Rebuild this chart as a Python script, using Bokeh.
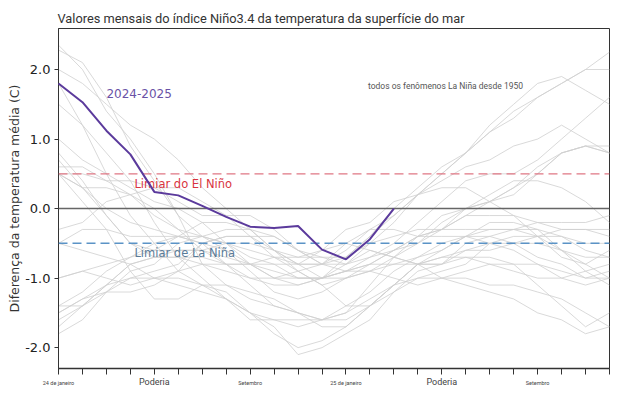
from bokeh.plotting import figure
from bokeh.models import Range1d, FixedTicker, Label, Span, LinearAxis
from bokeh.embed import file_html
from bokeh.resources import INLINE

# ---- data ----
months = list(range(24))
x_tick_labels = {0: "24 de janeiro", 8: "Setembro", 12: "25 de janeiro", 20: "Setembro"}
x_big_labels = {4: "Poderia", 16: "Poderia"}
y_ticks = [-2, -1, 0, 1, 2]
y_tick_labels = ["-2.0", "-1.0", "0.0", "1.0", "2.0"]

current_2024_2025 = [1.80, 1.53, 1.12, 0.78, 0.24, 0.19, 0.04, -0.12, -0.26, -0.28, -0.25, -0.59, -0.73, -0.44, 0.0]

ev_1950_51 = [-1.5, -1.3, -1.2, -1.2, -1.1, -0.9, -0.5, -0.4, -0.4, -0.4, -0.6, -0.8, -0.8, -0.5, -0.2, 0.2, 0.4, 0.6, 0.7, 0.9, 1.0, 1.2, 1.0, 0.8]
ev_1954_55 = [0.5, 0.3, -0.1, -0.5, -0.7, -0.7, -0.7, -0.8, -1.0, -1.1, -1.1, -1.0, -0.8, -0.6, -0.7, -0.8, -0.8, -0.7, -0.7, -0.8, -1.1, -1.4, -1.7, -1.5]
ev_1964_65 = [0.8, 0.4, -0.1, -0.5, -0.6, -0.6, -0.6, -0.7, -0.8, -0.8, -0.8, -0.8, -0.6, -0.3, -0.1, 0.2, 0.5, 0.8, 1.2, 1.5, 1.8, 1.9, 1.7, 1.5]
ev_1970_71 = [0.5, 0.3, 0.3, 0.2, 0.0, -0.3, -0.6, -0.8, -0.8, -0.7, -0.9, -1.1, -1.4, -1.4, -1.1, -0.8, -0.7, -0.7, -0.8, -0.8, -0.8, -0.9, -1.0, -0.9]
ev_1971_72 = [-1.4, -1.4, -1.1, -0.8, -0.7, -0.7, -0.8, -0.8, -0.8, -0.9, -1.0, -1.0, -0.7, -0.4, 0.0, 0.3, 0.6, 0.8, 1.1, 1.4, 1.6, 1.8, 2.0, 2.0]
ev_1973_74 = [1.8, 1.2, 0.5, -0.1, -0.5, -0.9, -1.1, -1.3, -1.5, -1.7, -2.1, -2.0, -1.8, -1.6, -1.2, -1.0, -0.9, -0.8, -0.5, -0.4, -0.4, -0.6, -0.8, -0.6]
ev_1974_75 = [-1.8, -1.6, -1.2, -1.0, -0.9, -0.8, -0.5, -0.4, -0.4, -0.6, -0.8, -0.6, -0.5, -0.6, -0.7, -0.8, -1.0, -1.1, -1.2, -1.3, -1.5, -1.6, -1.8, -1.7]
ev_1975_76 = [-0.5, -0.6, -0.7, -0.8, -1.0, -1.1, -1.2, -1.3, -1.5, -1.6, -1.7, -1.6, -1.5, -1.1, -0.7, -0.4, -0.3, -0.1, 0.1, 0.3, 0.6, 0.8, 0.9, 0.8]
ev_1983_84 = [2.0, 1.8, 1.5, 1.2, 1.0, 0.7, 0.3, 0.0, -0.3, -0.6, -0.8, -0.8, -0.5, -0.3, -0.3, -0.4, -0.4, -0.4, -0.2, -0.2, -0.3, -0.6, -0.9, -1.1]
ev_1984_85 = [-0.5, -0.3, -0.3, -0.4, -0.4, -0.4, -0.2, -0.2, -0.3, -0.6, -0.9, -1.1, -1.0, -0.8, -0.8, -0.8, -0.8, -0.6, -0.5, -0.5, -0.4, -0.3, -0.3, -0.4]
ev_1988_89 = [0.5, 0.1, -0.3, -0.9, -1.3, -1.3, -1.1, -1.2, -1.5, -1.8, -2.0, -1.9, -1.7, -1.4, -1.1, -0.8, -0.6, -0.4, -0.3, -0.3, -0.2, -0.2, -0.2, -0.1]
ev_1995_96 = [1.0, 0.7, 0.5, 0.3, 0.1, 0.0, -0.2, -0.5, -0.8, -1.0, -1.0, -1.0, -0.9, -0.8, -0.6, -0.4, -0.3, -0.3, -0.3, -0.3, -0.4, -0.4, -0.5, -0.5]
ev_1998_99 = [2.35, 2.0, 1.4, 1.0, 0.5, -0.1, -0.8, -1.1, -1.3, -1.4, -1.5, -1.6, -1.5, -1.3, -1.1, -1.0, -1.0, -1.0, -1.1, -1.1, -1.2, -1.3, -1.5, -1.7]
ev_1999_00 = [-1.5, -1.3, -1.1, -1.0, -1.0, -1.0, -1.1, -1.1, -1.2, -1.3, -1.5, -1.7, -1.7, -1.4, -1.1, -0.8, -0.7, -0.6, -0.6, -0.5, -0.5, -0.6, -0.7, -0.7]
ev_2000_01 = [-1.7, -1.4, -1.1, -0.8, -0.7, -0.6, -0.6, -0.5, -0.5, -0.6, -0.7, -0.7, -0.7, -0.5, -0.4, -0.3, -0.3, -0.1, -0.1, -0.1, -0.2, -0.3, -0.3, -0.3]
ev_2005_06 = [0.6, 0.6, 0.4, 0.4, 0.3, 0.1, -0.1, -0.1, -0.1, -0.3, -0.6, -0.8, -0.9, -0.8, -0.6, -0.4, -0.1, 0.0, 0.1, 0.3, 0.5, 0.8, 0.9, 0.9]
ev_2007_08 = [0.7, 0.3, 0.0, -0.2, -0.3, -0.4, -0.5, -0.8, -1.1, -1.4, -1.5, -1.6, -1.6, -1.4, -1.2, -0.9, -0.8, -0.5, -0.4, -0.3, -0.3, -0.4, -0.6, -0.7]
ev_2008_09 = [-1.6, -1.4, -1.2, -0.9, -0.8, -0.5, -0.4, -0.3, -0.3, -0.4, -0.6, -0.7, -0.8, -0.7, -0.5, -0.2, 0.1, 0.4, 0.5, 0.5, 0.7, 1.0, 1.3, 1.6]
ev_2010_11 = [1.5, 1.2, 0.8, 0.4, -0.2, -0.7, -1.0, -1.3, -1.6, -1.6, -1.6, -1.6, -1.4, -1.2, -0.9, -0.7, -0.6, -0.4, -0.5, -0.6, -0.8, -1.0, -1.1, -1.0]
ev_2011_12 = [-1.4, -1.2, -0.9, -0.7, -0.6, -0.4, -0.5, -0.6, -0.8, -1.0, -1.1, -1.0, -0.9, -0.7, -0.6, -0.5, -0.3, 0.0, 0.2, 0.4, 0.4, 0.3, 0.1, -0.2]
ev_2016_17 = [2.28, 2.1, 1.6, 0.9, 0.4, -0.1, -0.4, -0.5, -0.6, -0.7, -0.7, -0.6, -0.3, -0.2, 0.1, 0.2, 0.3, 0.3, 0.1, -0.1, -0.4, -0.7, -0.8, -1.0]
ev_2017_18 = [-0.3, -0.2, 0.1, 0.2, 0.3, 0.3, 0.1, -0.1, -0.4, -0.7, -0.8, -1.0, -0.9, -0.9, -0.7, -0.5, -0.2, 0.0, 0.1, 0.2, 0.5, 0.8, 0.9, 0.8]
ev_2020_21 = [0.5, 0.5, 0.4, 0.2, -0.1, -0.3, -0.4, -0.6, -0.9, -1.2, -1.3, -1.2, -1.0, -0.9, -0.8, -0.7, -0.5, -0.4, -0.4, -0.5, -0.7, -0.8, -1.0, -1.0]
ev_2021_22 = [-1.0, -0.9, -0.8, -0.7, -0.5, -0.4, -0.4, -0.5, -0.7, -0.8, -1.0, -1.0, -1.0, -0.9, -1.0, -1.1, -1.0, -0.9, -0.8, -0.9, -1.0, -1.0, -0.9, -0.8]
ev_2022_23 = [-1.0, -0.9, -1.0, -1.1, -1.0, -0.9, -0.8, -0.9, -1.0, -1.0, -0.9, -0.8, -0.7, -0.4, -0.1, 0.2, 0.5, 0.8, 1.1, 1.3, 1.6, 1.8, 2.0, 2.25]

events = [ev_1950_51, ev_1954_55, ev_1964_65, ev_1970_71, ev_1971_72, ev_1973_74,
          ev_1974_75, ev_1975_76, ev_1983_84, ev_1984_85, ev_1988_89, ev_1995_96,
          ev_1998_99, ev_1999_00, ev_2000_01, ev_2005_06, ev_2007_08, ev_2008_09,
          ev_2010_11, ev_2011_12, ev_2016_17, ev_2017_18, ev_2020_21, ev_2021_22,
          ev_2022_23]

el_nino_threshold = 0.5
la_nina_threshold = -0.5

# ---- figure ----
p = figure(width=618, height=396,
           x_range=Range1d(0, 23), y_range=Range1d(-2.30, 2.59),
           output_backend="svg", toolbar_location=None,
           min_border_left=58, min_border_right=9,
           min_border_top=28, min_border_bottom=28)

p.title.text = "Valores mensais do índice Niño3.4 da temperatura da superfície do mar"
p.title.text_font = "Roboto"
p.title.text_font_size = "12.8px"
p.title.text_font_style = "normal"
p.title.text_color = "#333333"
p.title.standoff = 6
p.title.offset = -1

p.xgrid.visible = False
p.ygrid.visible = False
p.outline_line_color = "#333333"
p.outline_line_width = 1
p.outline_line_alpha = 1
p.background_fill_color = "white"
p.border_fill_color = "white"

# x axis (ticks + small labels)
p.xaxis.ticker = FixedTicker(ticks=months)
p.xaxis.major_label_overrides = {m: x_tick_labels.get(m, "") for m in months}
p.xaxis.major_label_text_font = "Roboto"
p.xaxis.major_label_text_font_size = "5.5px"
p.xaxis.major_label_text_color = "#444444"
p.xaxis.major_label_standoff = 5
p.xaxis.major_tick_out = 6
p.xaxis.major_tick_in = 0
p.xaxis.minor_tick_line_color = None
p.xaxis.axis_line_color = "#333333"
p.xaxis.axis_line_width = 1.5
p.xaxis.major_tick_line_color = "#333333"

# second bottom axis carrying the larger "Poderia" labels
big_ticks = list(x_big_labels.keys())
ax2 = LinearAxis(ticker=FixedTicker(ticks=big_ticks),
                 major_label_overrides=dict(x_big_labels),
                 major_label_text_font="Roboto", major_label_text_font_size="9px",
                 major_label_text_color="#444444",
                 major_label_standoff=-12,
                 axis_line_color=None, major_tick_line_color=None,
                 minor_tick_line_color=None, major_tick_out=0, major_tick_in=0)
p.add_layout(ax2, "below")

# y axis
p.yaxis.ticker = FixedTicker(ticks=y_ticks)
p.yaxis.major_label_overrides = dict(zip(y_ticks, y_tick_labels))
p.yaxis.major_label_text_font = "DejaVu Sans"
p.yaxis.major_label_text_font_size = "13px"
p.yaxis.major_label_text_color = "#222222"
p.yaxis.major_label_standoff = 4
p.yaxis.major_tick_out = 4
p.yaxis.major_tick_in = 0
p.yaxis.minor_tick_line_color = None
p.yaxis.axis_line_color = "#333333"
p.yaxis.major_tick_line_color = "#333333"
p.yaxis.axis_label = "Diferença da temperatura média (C)"
p.yaxis.axis_label_text_font = "DejaVu Sans"
p.yaxis.axis_label_text_font_size = "12.5px"
p.yaxis.axis_label_text_font_style = "normal"
p.yaxis.axis_label_text_color = "#333333"
p.yaxis.axis_label_standoff = 0

# gray lines of all La Niña events
p.multi_line(xs=[months[:len(e)] for e in events], ys=events,
             line_color="#d0d0d0", line_width=1, line_alpha=0.8)

# reference lines
p.add_layout(Span(location=0, dimension="width", line_color="#666666", line_width=1.5))
p.add_layout(Span(location=el_nino_threshold, dimension="width", line_color="#e07784",
                  line_width=1.3, line_dash="9 5"))
p.add_layout(Span(location=la_nina_threshold, dimension="width", line_color="#5b93c6",
                  line_width=1.5, line_dash="9 5"))

# current event
r = p.line(months[:len(current_2024_2025)], current_2024_2025,
           line_color="#5b3a9c", line_width=2)
r.level = "overlay"

# texts
p.add_layout(Label(x=2.0, y=1.66, text="2024-2025", text_font="DejaVu Sans",
                   text_font_size="12px", text_color="#6a52a6", text_baseline="middle"))
p.add_layout(Label(x=3.17, y=0.36, text="Limiar do El Niño", text_font="DejaVu Sans",
                   text_font_size="11.5px", text_color="#d9343f", text_baseline="middle"))
p.add_layout(Label(x=3.17, y=-0.64, text="Limiar de La Niña", text_font="DejaVu Sans",
                   text_font_size="11.5px", text_color="#5a7b98", text_baseline="middle"))
p.add_layout(Label(x=12.92, y=1.76, text="todos os fenômenos La Niña desde 1950",
                   text_font="Roboto", text_font_size="8.5px", text_color="#555555",
                   text_baseline="middle"))

open("out.html", "w").write(file_html(p, INLINE))
